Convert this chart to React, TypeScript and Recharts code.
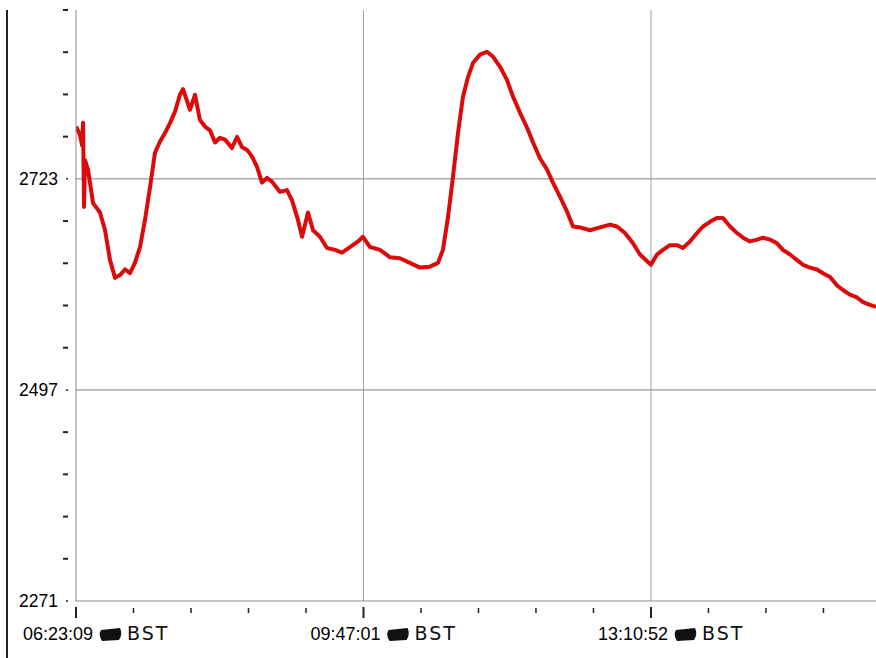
import React from 'react';
import { LineChart, Line, XAxis, YAxis, ReferenceLine } from 'recharts';

// minutes since the first reading (06:23:09)
const elapsedMin = [
  0, 2.8, 4.3, 5.0, 5.7, 6.4, 8.5, 12.1, 17.0, 20.6, 24.1, 27.7, 31.2, 34.7, 38.3, 41.8, 45.4, 48.9, 52.5, 56.0,
  59.6, 63.1, 66.7, 70.2, 73.7, 75.9, 80.8, 84.4, 87.9, 91.5, 95.0, 98.6, 102.1, 105.7, 110.6, 114.2, 117.7, 121.3,
  124.8, 128.3, 131.9, 135.4, 139.0, 144.7, 149.6, 153.2, 157.4, 160.3, 164.5, 168.1, 173.0, 178.0, 183.7, 188.6,
  194.3, 200.0, 203.5, 208.5, 215.6, 222.7, 229.7, 236.8, 243.9, 251.0, 256.7, 260.2, 263.8, 267.3, 270.9, 274.4,
  278.0, 281.5, 286.5, 291.4, 295.7, 300.7, 305.6, 309.9, 314.8, 319.8, 324.1, 329.0, 334.0, 338.2, 343.2, 348.2,
  352.4, 357.4, 364.5, 371.6, 378.7, 383.6, 389.3, 395.0, 399.9, 407.7, 412.0, 416.2, 421.2, 426.2, 430.4, 435.4,
  440.4, 444.6, 449.6, 454.5, 458.8, 463.8, 468.7, 473.0, 477.9, 482.9, 487.2, 492.1, 497.1, 501.3, 506.3, 511.3,
  515.5, 520.5, 525.4, 529.7, 534.7, 539.6, 543.9, 548.8, 553.8, 558.1, 563.0, 567.3,
];

const level = [
  2779, 2770, 2759, 2783, 2693, 2743, 2733, 2697, 2687, 2668, 2636, 2617, 2620, 2626, 2622, 2633, 2650, 2679, 2714, 2751,
  2763, 2772, 2783, 2795, 2813, 2819, 2797, 2813, 2786, 2779, 2775, 2762, 2767, 2765, 2756, 2768, 2757, 2754,
  2747, 2736, 2719, 2724, 2720, 2709, 2711, 2700, 2679, 2661, 2687, 2668, 2661, 2649, 2647, 2644,
  2650, 2656, 2661, 2650, 2647, 2639, 2638, 2633, 2628, 2629, 2633, 2647, 2682, 2725, 2772, 2811,
  2832, 2847, 2856, 2859, 2854, 2843, 2829, 2811, 2794, 2778, 2762, 2745, 2733, 2719, 2704, 2688,
  2672, 2671, 2668, 2671, 2674, 2672, 2665, 2654, 2642, 2631, 2642, 2647, 2652, 2652, 2649, 2656,
  2665, 2672, 2677, 2681, 2681, 2672, 2665, 2660, 2656, 2658, 2660, 2658, 2654, 2647, 2642, 2636,
  2631, 2628, 2626, 2622, 2618, 2609, 2604, 2599, 2596, 2591, 2588, 2586,
];

const timeLabels = ['06:23:09', '09:47:01', '13:10:52'];
const zoneLabel = 'BST';
const yLabels = [2271, 2497, 2723];
const yStep = 45.2;
const xStep = 40.773; // minutes between small ticks
const xEnd = 567.3;

const chartData = elapsedMin.map((m, i) => ({ m, v: level[i] }));
const yTicks = Array.from({ length: 15 }, (_, i) => +(yLabels[0] + i * yStep).toFixed(1));
const xTicks = Array.from({ length: 14 }, (_, i) => +(i * xStep).toFixed(2));

const YTick = ({ x, y, payload }: any) => {
  const val = Math.round(payload.value);
  if (yLabels.includes(val)) {
    return (
      <g>
        <circle cx={x - 1} cy={y} r={1} fill="#222" />
        <text x={x - 10} y={y} dy={6} textAnchor="end" fontSize={17.5} fill="#000">{val}</text>
      </g>
    );
  }
  return <line x1={x - 5} x2={x} y1={y} y2={y} stroke="#222" strokeWidth={2} />;
};

const XTick = ({ x, y, payload }: any) => {
  const idx = Math.round(payload.value / xStep);
  const major = idx % 5 === 0;
  const label = timeLabels[idx / 5];
  return (
    <g>
      <line x1={x} x2={x} y1={y + (major ? 6 : 7)} y2={y + (major ? 17 : 12)} stroke="#222" strokeWidth={major ? 2 : 1.5} />
      {major && label && (
        <g>
          <text x={x - 53} y={y + 39} fontSize={18} fill="#000">{label}</text>
          <path
            d={`M${x + 25},${y + 29} L${x + 44},${y + 27} Q${x + 47},${y + 33} ${x + 43},${y + 39} L${x + 26},${y + 40} Q${x + 22},${y + 34} ${x + 25},${y + 29} Z`}
            fill="#111"
          />
          <text x={x + 51} y={y + 39} fontSize={19} letterSpacing={2} fill="#111" fontFamily="'DejaVu Sans', sans-serif">{zoneLabel}</text>
        </g>
      )}
    </g>
  );
};

export default function App() {
  return (
    <div style={{ position: 'absolute', left: 0, top: 0, width: 876, height: 658, background: '#fff', fontFamily: "'Liberation Sans', Arial, sans-serif" }}>
      <div style={{ position: 'absolute', left: 6, top: 10, width: 2, height: 648, background: '#222' }} />
      <LineChart width={876} height={658} data={chartData} margin={{ top: 10, right: 0, bottom: 0, left: 0 }}>
        <XAxis
          dataKey="m"
          type="number"
          domain={[0, xEnd]}
          ticks={xTicks}
          interval={0}
          tickSize={0}
          tickMargin={0}
          tickLine={false}
          tick={<XTick />}
          axisLine={{ stroke: '#8c8c8c' }}
          height={57}
          allowDataOverflow
        />
        <YAxis
          type="number"
          domain={[yLabels[0], yTicks[yTicks.length - 1]]}
          ticks={yTicks}
          interval={0}
          tickSize={8}
          tickMargin={0}
          tickLine={false}
          tick={<YTick />}
          axisLine={{ stroke: '#8c8c8c' }}
          width={76}
          allowDataOverflow
        />
        <ReferenceLine y={yLabels[1]} stroke="#808080" />
        <ReferenceLine y={yLabels[2]} stroke="#808080" />
        <ReferenceLine x={xTicks[5]} stroke="#a0a0a0" />
        <ReferenceLine x={xTicks[10]} stroke="#a0a0a0" />
        <Line
          type="linear"
          dataKey="v"
          stroke="#dc0a0a"
          strokeWidth={4}
          strokeLinejoin="round"
          dot={false}
          isAnimationActive={false}
        />
      </LineChart>
    </div>
  );
}
